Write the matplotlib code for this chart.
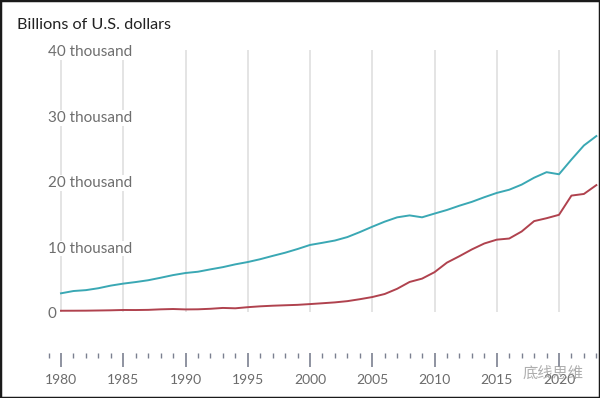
import matplotlib
matplotlib.use("Agg")
import matplotlib.pyplot as plt
from matplotlib.patches import Rectangle
from matplotlib.ticker import MultipleLocator
from matplotlib.transforms import blended_transform_factory, offset_copy

plt.rcParams['font.family'] = ['Lato', 'DejaVu Sans']

years = list(range(1980, 2024))

# United States GDP, billions of current US dollars
us_gdp = [2857, 3207, 3343, 3634, 4037, 4339, 4580, 4855, 5236, 5642,
          5963, 6158, 6520, 6859, 7287, 7640, 8073, 8578, 9063, 9631,
          10251, 10582, 10929, 11457, 12217, 13039, 13816, 14474, 14770, 14478,
          15049, 15600, 16254, 16843, 17551, 18206, 18695, 19477, 20533, 21381,
          21060, 23315, 25463, 26900]

# China GDP, billions of current US dollars
cn_gdp = [191, 196, 205, 231, 260, 309, 301, 327, 408, 457,
          396, 413, 492, 621, 566, 737, 868, 962, 1029, 1094,
          1211, 1339, 1471, 1660, 1955, 2286, 2752, 3550, 4594, 5102,
          6087, 7552, 8532, 9570, 10476, 11062, 11233, 12310, 13895, 14340,
          14860, 17800, 18050, 19400]

y_ticks = [0, 10000, 20000, 30000, 40000]
y_labels = ['0', '10 thousand', '20 thousand', '30 thousand', '40 thousand']
grid_years = list(range(1980, 2021, 5))

fig = plt.figure(figsize=(6.0, 3.98), dpi=100)
ax = fig.add_axes([40 / 600, 1 - 353 / 398, 558 / 600, (353 - 50) / 398])

px_per_year = 12.45
px_per_k = 6.54  # pixels per thousand
ax.set_xlim(1980 - 21 / px_per_year, 1980 + 537 / px_per_year)
ax.set_ylim(-(353 - 312) / px_per_k * 1000, (312 - 50) / px_per_k * 1000)

ax.vlines(grid_years, 0, 40000, color='#dddddd', linewidth=1.1, zorder=1)

ax.plot(years, us_gdp, color='#3aa8b4', linewidth=1.4, zorder=3)
ax.plot(years, cn_gdp, color='#b0424e', linewidth=1.4, zorder=3)

for s in ax.spines.values():
    s.set_visible(False)
ax.set_yticks([])

ax.xaxis.set_major_locator(MultipleLocator(5))
ax.xaxis.set_minor_locator(MultipleLocator(1))
ax.tick_params(axis='x', which='major', length=10, width=1.2, color='#7b8090',
               labelsize=10, labelcolor='#6b6b6b', pad=5)
ax.tick_params(axis='x', which='minor', length=3.5, width=1.0, color='#7b8090')
ax.set_xticks(grid_years)
ax.set_xticklabels([str(y) for y in grid_years])

trans = blended_transform_factory(ax.transAxes, ax.transData)
trans = offset_copy(trans, fig=fig, x=0, y=-2, units='dots')
for v, lab in zip(y_ticks, y_labels):
    ax.text(8 / 558, v, lab, transform=trans, ha='left', va='center',
            fontsize=11, color='#6e6e6e', zorder=4,
            bbox=dict(facecolor='white', edgecolor='none', pad=0.5))

fig.text(17 / 600, 1 - 25 / 398, 'Billions of U.S. dollars', ha='left', va='center',
         fontsize=11.7, color='#222222')

fig.text(553 / 600, 1 - 373 / 398, '底线思维', ha='center', va='center',
         fontsize=11, color='#9a9a9a', alpha=0.8,
         family=['Noto Sans CJK SC', 'DejaVu Sans'], zorder=10)

fig.patches.append(Rectangle((0, 0), 1, 1, transform=fig.transFigure,
                             fill=False, edgecolor='#1a1a1a', linewidth=2.5))

fig.savefig('out.png', dpi=100)
